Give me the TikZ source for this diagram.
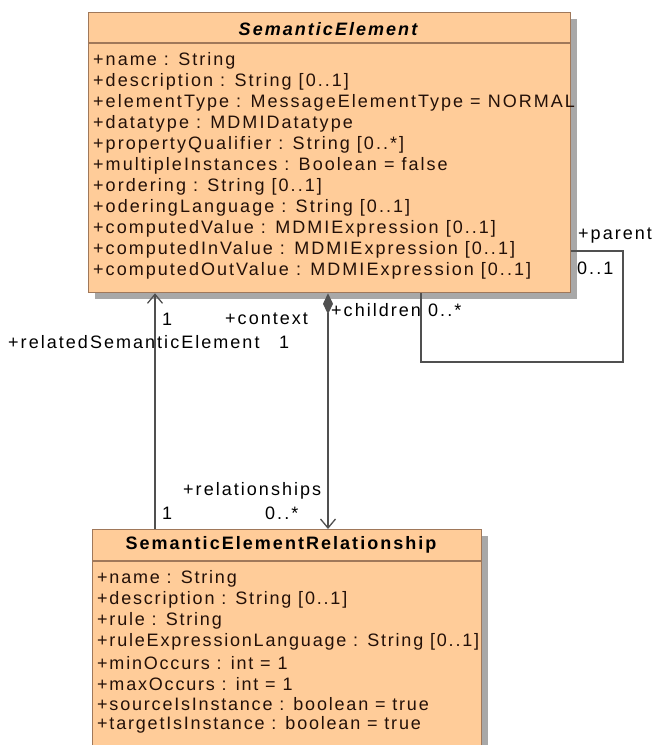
\documentclass[tikz,border=0pt]{standalone}
\usepackage{fontspec}
\setmainfont{Liberation Sans}[LetterSpace=11.3]
\usetikzlibrary{arrows.meta,shadows}
\definecolor{boxfill}{HTML}{FFCC99}
\definecolor{boxline}{HTML}{A0785A}
\definecolor{shadowc}{HTML}{A8A8A8}
\definecolor{linec}{HTML}{505050}
\definecolor{txtc}{HTML}{231008}
\begin{document}
\begin{tikzpicture}[x=1pt,y=-1pt,
  umlbox/.style={draw=boxline, line width=1.3pt, fill=boxfill, anchor=north west, inner sep=0pt,
    drop shadow={shadow xshift=6pt, shadow yshift=-6pt, fill=shadowc, opacity=1}},
  attr/.style={anchor=west, inner sep=0pt, text=txtc, font=\fontsize{18}{20}\selectfont},
  battr/.style={attr, font=\fontsize{18}{20}\selectfont\addfontfeature{LetterSpace=10}},
  lbl/.style={anchor=west, inner sep=0pt, text=black, font=\fontsize{18}{20}\selectfont},
  ttl/.style={inner sep=0pt, text=black},
  assoc/.style={draw=linec, line width=1.4pt},
  openhead/.style={-{Straight Barb[length=9pt,width=15pt,line width=1.3pt]}},
  comp/.style={{Diamond[length=21pt,width=10pt,fill=linec]}-{Straight Barb[length=9pt,width=15pt,line width=1.3pt]}}
]
\useasboundingbox (0,0) rectangle (653,745);

% SemanticElement
\node[umlbox, minimum width=482pt, minimum height=280pt] (se) at (88,12) {};
\coordinate (sesep) at (0,43);
\draw[boxline, line width=1.3pt] (se.west |- sesep) -- (se.east |- sesep);
\node[ttl, font=\fontsize{18}{20}\selectfont\bfseries\itshape] (setitle) at (328,29) {SemanticElement};
\node[attr] (a1) at (93,61) {+name : String};
\node[attr] (a2) at (93,82) {+description : String [0..1]};
\node[attr] (a3) at (93,103) {+elementType : MessageElementType = NORMAL};
\node[attr] (a4) at (93,124) {+datatype : MDMIDatatype};
\node[attr] (a5) at (93,145) {+propertyQualifier : String [0..*]};
\node[attr] (a6) at (93,166) {+multipleInstances : Boolean = false};
\node[attr] (a7) at (93,187) {+ordering : String [0..1]};
\node[attr] (a8) at (93,208) {+oderingLanguage : String [0..1]};
\node[attr] (a9) at (93,229) {+computedValue : MDMIExpression [0..1]};
\node[attr] (a10) at (93,250) {+computedInValue : MDMIExpression [0..1]};
\node[attr] (a11) at (93,271) {+computedOutValue : MDMIExpression [0..1]};

% SemanticElementRelationship
\node[umlbox, minimum width=389pt, minimum height=230pt] (rel) at (92,529) {};
\coordinate (relsep) at (0,561);
\draw[boxline, line width=1.3pt] (rel.west |- relsep) -- (rel.east |- relsep);
\node[ttl, font=\fontsize{18}{20}\selectfont\bfseries] (reltitle) at (281,545) {SemanticElementRelationship};
\node[battr] (b1) at (97,579) {+name : String};
\node[battr] (b2) at (97,600) {+description : String [0..1]};
\node[battr] (b3) at (97,621) {+rule : String};
\node[battr] (b4) at (97,642) {+ruleExpressionLanguage : String [0..1]};
\node[battr] (b5) at (97,663) {+minOccurs : int = 1};
\node[battr] (b6) at (97,684) {+maxOccurs : int = 1};
\node[battr] (b7) at (97,704) {+sourceIsInstance : boolean = true};
\node[battr] (b8) at (97,725) {+targetIsInstance : boolean = true};

% connectors
\coordinate (lx) at (155,0);
\coordinate (mx) at (328,0);
\draw[assoc, openhead] (rel.north -| lx) -- (se.south -| lx);
\draw[assoc, comp] (se.south -| mx) -- (rel.north -| mx);
\coordinate (p1) at (0,251);
\coordinate (p2) at (623,251);
\coordinate (p3) at (623,362);
\coordinate (p4) at (421,362);
\draw[assoc, line width=1.1pt] (se.east |- p1) -- (p2) -- (p3) -- (p4) -- (se.south -| p4);

% labels
\node[lbl] (lparent) at (578,236) {+parent};
\node[lbl] (lp01) at (577,268) {0..1};
\node[lbl] (lchildren) at (331,310) {+children};
\node[lbl] (lc0s) at (428,310) {0..*};
\node[lbl] (l1a) at (162,319) {1};
\node[lbl] (lcontext) at (225,319) {+context};
\node[lbl] (lrelated) at (8,342) {+relatedSemanticElement};
\node[lbl] (l1b) at (279,342) {1};
\node[lbl] (lrelships) at (183,491) {+relationships};
\node[lbl] (l1c) at (162,513) {1};
\node[lbl] (lr0s) at (265,513) {0..*};
\end{tikzpicture}
\end{document}
